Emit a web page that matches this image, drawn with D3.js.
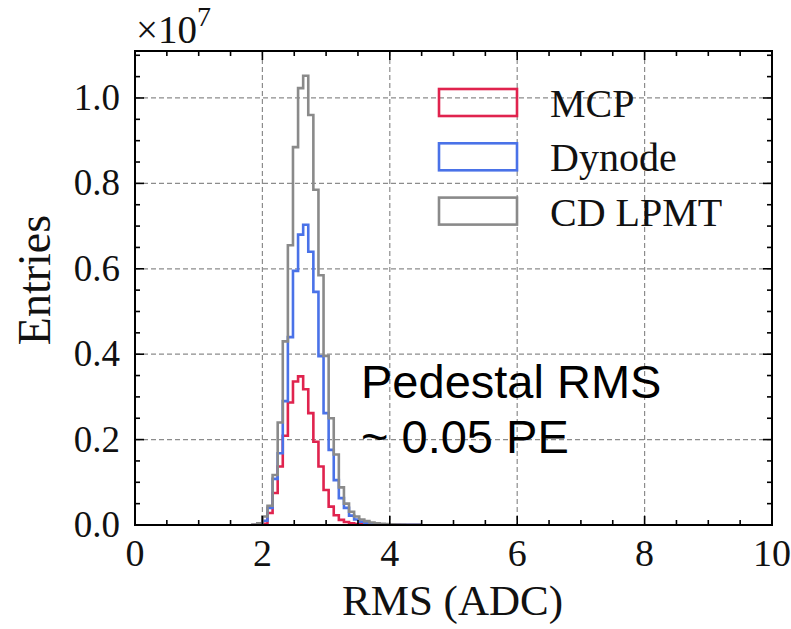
<!DOCTYPE html>
<html><head><meta charset="utf-8">
<script src="https://cdn.jsdelivr.net/npm/d3@7"></script>
<style>body{margin:0;background:#fff}</style>
</head><body>
<svg id="chart" width="791" height="629"></svg>
<script>
// ---- data (entries in units of 1e7) ----
const seriesNames = ["MCP", "Dynode", "CD LPMT"];
const seriesColors = ["#e0234e", "#4a72e8", "#8a8a8a"];
const binWidth = 0.08;
const firstBinStart = 1.84;
const mcpValues = [0, 0, 0.003, 0.028, 0.075, 0.137, 0.209, 0.287, 0.336, 0.348, 0.318, 0.262, 0.195, 0.137, 0.082, 0.043, 0.023, 0.012, 0.007, 0.004, 0.002, 0.0015, 0.001, 0.0007, 0.0005, 0.0004, 0.0003, 0.0002, 0.0002, 0.0001, 0.0001, 0.0001, 0.0001];
const dynodeValues = [0, 0.001, 0.01, 0.04, 0.108, 0.168, 0.29, 0.44, 0.595, 0.68, 0.703, 0.64, 0.546, 0.395, 0.262, 0.176, 0.105, 0.063, 0.04, 0.022, 0.013, 0.008, 0.005, 0.003, 0.002, 0.0015, 0.001, 0.0008, 0.0006, 0.0005, 0.0004, 0.0003, 0.0002];
const lpmtValues = [0.001, 0.004, 0.02, 0.045, 0.117, 0.24, 0.43, 0.655, 0.885, 1.023, 1.052, 0.96, 0.785, 0.585, 0.396, 0.25, 0.165, 0.088, 0.05, 0.031, 0.02, 0.013, 0.009, 0.006, 0.004, 0.003, 0.002, 0.0015, 0.001, 0.001, 0.0007, 0.0005, 0.0004];
const xTickValues = [0, 2, 4, 6, 8, 10];
const xTickLabels = ["0", "2", "4", "6", "8", "10"];
const yTickValues = [0, 0.2, 0.4, 0.6, 0.8, 1.0];
const yTickLabels = ["0.0", "0.2", "0.4", "0.6", "0.8", "1.0"];
const xMinorTicks = [0.5, 1, 1.5, 2.5, 3, 3.5, 4.5, 5, 5.5, 6.5, 7, 7.5, 8.5, 9, 9.5];
const yMinorTicks = [0.05, 0.1, 0.15, 0.25, 0.3, 0.35, 0.45, 0.5, 0.55, 0.65, 0.7, 0.75, 0.85, 0.9, 0.95, 1.05, 1.1];
const xLabel = "RMS (ADC)";
const yLabel = "Entries";
const annotationLines = ["Pedestal RMS", "~ 0.05 PE"];

// ---- layout ----
const L = 135, R = 772, T = 51, B = 525;
const svg = d3.select("#chart");
const x = d3.scaleLinear().domain([0, 10]).range([L, R]);
const y = d3.scaleLinear().domain([0, 1.11]).range([B, T]);
const serif = "'Liberation Serif','Times New Roman',serif";

// grid
const grid = svg.append("g").attr("stroke", "#8c8c8c").attr("stroke-width", 1.2).attr("stroke-dasharray", "5,3");
grid.selectAll(".gx").data(xTickValues.filter(v => v > 0 && v < 10)).join("line")
  .attr("x1", d => x(d)).attr("x2", d => x(d)).attr("y1", T).attr("y2", B);
grid.selectAll(".gy").data(yTickValues.filter(v => v > 0)).join("line")
  .attr("x1", L).attr("x2", R).attr("y1", d => y(d)).attr("y2", d => y(d));

// histograms
svg.append("clipPath").attr("id", "clip").append("rect").attr("x", L).attr("y", T).attr("width", R - L).attr("height", B - T);
const allSeries = [mcpValues, dynodeValues, lpmtValues];
const line = d3.line().x(d => x(d[0])).y(d => y(d[1]));
allSeries.forEach((vals, i) => {
  const pts = [[firstBinStart, 0]];
  vals.forEach((v, k) => {
    const lo = firstBinStart + k * binWidth, hi = lo + binWidth;
    pts.push([lo, v], [hi, v]);
  });
  pts.push([firstBinStart + vals.length * binWidth, 0]);
  svg.append("path").attr("d", line(pts)).attr("fill", "none")
    .attr("stroke", seriesColors[i]).attr("stroke-width", 2.6)
    .attr("stroke-linejoin", "miter").attr("clip-path", "url(#clip)");
});

// frame
svg.append("rect").attr("x", L).attr("y", T).attr("width", R - L).attr("height", B - T)
  .attr("fill", "none").attr("stroke", "#000").attr("stroke-width", 2);

// ticks (inward, all four sides)
const tk = svg.append("g").attr("stroke", "#000").attr("stroke-width", 1.6);
const maj = 9, mnr = 5;
[[xTickValues, maj], [xMinorTicks, mnr]].forEach(([vals, len]) => {
  tk.selectAll(null).data(vals).join("line").attr("x1", d => x(d)).attr("x2", d => x(d)).attr("y1", B).attr("y2", B - len);
  tk.selectAll(null).data(vals).join("line").attr("x1", d => x(d)).attr("x2", d => x(d)).attr("y1", T).attr("y2", T + len);
});
[[yTickValues, maj], [yMinorTicks, mnr]].forEach(([vals, len]) => {
  tk.selectAll(null).data(vals).join("line").attr("y1", d => y(d)).attr("y2", d => y(d)).attr("x1", L).attr("x2", L + len);
  tk.selectAll(null).data(vals).join("line").attr("y1", d => y(d)).attr("y2", d => y(d)).attr("x1", R).attr("x2", R - len);
});

// tick labels
svg.append("g").selectAll("text").data(xTickValues).join("text")
  .attr("x", d => x(d)).attr("y", 566).attr("text-anchor", "middle")
  .attr("font-family", serif).attr("font-size", 38).attr("fill", "#111")
  .text((d, i) => xTickLabels[i]);
svg.append("g").selectAll("text").data(yTickValues).join("text")
  .attr("x", 120).attr("y", d => y(d) + 12).attr("text-anchor", "end")
  .attr("font-family", serif).attr("font-size", 37).attr("fill", "#111")
  .text((d, i) => yTickLabels[i]);

// offset text
const off = svg.append("text").attr("x", 136).attr("y", 43).attr("font-family", serif).attr("font-size", 39).attr("fill", "#111");
off.append("tspan").text("\u00d710");
off.append("tspan").attr("font-size", 28).attr("dy", -17).text("7");

// axis labels
svg.append("text").attr("x", (L + R) / 2 - 1).attr("y", 615).attr("text-anchor", "middle")
  .attr("font-family", serif).attr("font-size", 43).attr("fill", "#111").text(xLabel);
svg.append("text").attr("transform", "translate(50,280) rotate(-90)").attr("text-anchor", "middle")
  .attr("font-family", serif).attr("font-size", 46).attr("fill", "#111").text(yLabel);

// legend
const lg = svg.append("g");
seriesNames.forEach((n, i) => {
  const yy = 89 + i * 54.3;
  lg.append("rect").attr("x", 439).attr("y", yy).attr("width", 78).attr("height", 27)
    .attr("fill", "none").attr("stroke", seriesColors[i]).attr("stroke-width", 2.6);
  lg.append("text").attr("x", 550).attr("y", yy + 28).attr("font-family", serif)
    .attr("font-size", 40).attr("fill", "#111").text(n);
});

// annotation
svg.append("text").attr("font-family", "'Liberation Sans',Arial,sans-serif").attr("font-size", 47).attr("fill", "#000")
  .selectAll("tspan").data(annotationLines).join("tspan")
  .attr("x", 361).attr("y", (d, i) => 398 + i * 55).text(d => d);
</script>
</body></html>
